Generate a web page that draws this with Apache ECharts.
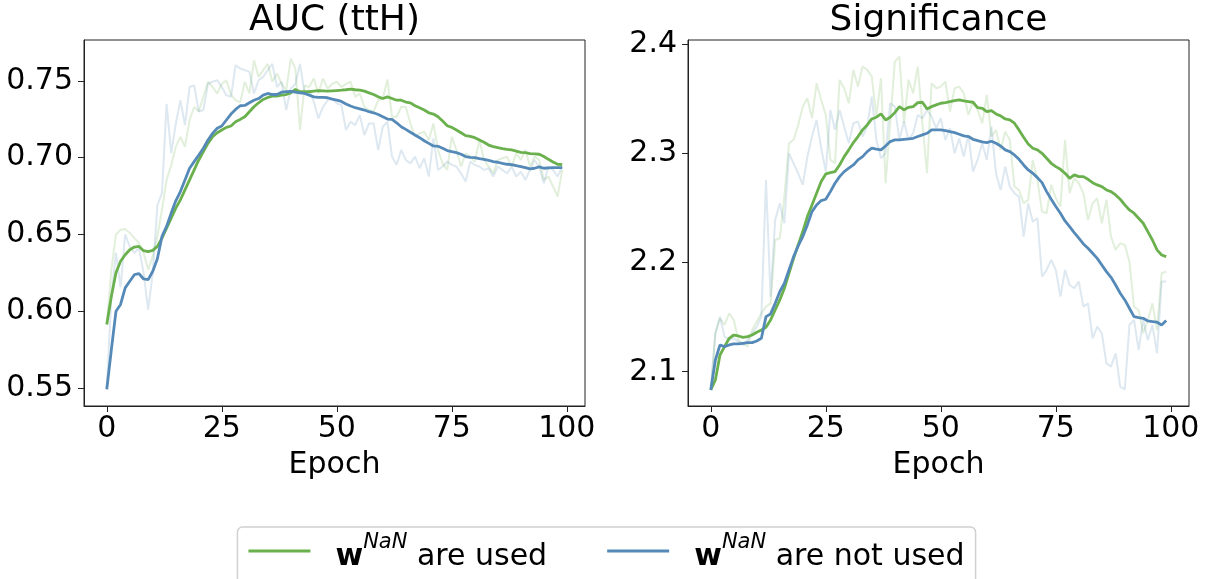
<!DOCTYPE html>
<html>
<head>
<meta charset="utf-8">
<script src="https://cdn.jsdelivr.net/npm/echarts@6/dist/echarts.min.js"></script>
<style>
html,body{margin:0;padding:0;background:#fff;}
#chart{width:1213px;height:579px;}
</style>
</head>
<body>
<div id="chart"></div>
<script>
// ---- data ----
const epochTicks = [0, 25, 50, 75, 100];
const aucTicks = [0.55, 0.60, 0.65, 0.70, 0.75];
const sigTicks = [2.1, 2.2, 2.3, 2.4];
const seriesNames = ['w^NaN are used', 'w^NaN are not used'];

const aucUsedSmooth = [
0.5914,0.6098,0.625,0.6325,0.6368,0.640,0.6418,0.6422,0.6394,0.6388,
0.6396,0.6422,0.6476,0.6541,0.6606,0.6671,0.6725,0.679,0.6855,0.692,
0.6985,0.7039,0.7093,0.7136,0.7162,0.718,0.7197,0.7206,0.7234,0.7249,
0.7266,0.7299,0.7331,0.7357,0.7379,0.7392,0.7401,0.7401,0.7407,0.7411,
0.7422,0.7444,0.7429,0.7429,0.7429,0.7433,0.7437,0.7435,0.7433,0.7435,
0.7437,0.7439,0.7442,0.7446,0.7442,0.7439,0.7433,0.7422,0.7411,0.7396,
0.7385,0.7396,0.7385,0.7374,0.7374,0.7362,0.7357,0.7338,0.7325,0.731,
0.7292,0.7284,0.7266,0.7238,0.7208,0.7197,0.718,0.7162,0.7143,0.7139,
0.713,0.7115,0.71,0.7082,0.7072,0.7065,0.7059,0.7054,0.705,0.7043,
0.7035,0.7033,0.7026,0.7024,0.7022,0.7007,0.6989,0.6972,0.6957,0.6955];

const aucNotUsedSmooth = [
0.5492,0.575,0.600,0.6044,0.6152,0.6195,0.6238,0.6245,0.621,0.6206,
0.626,0.6342,0.6487,0.6552,0.6639,0.6719,0.6779,0.6855,0.6931,0.6974,
0.7017,0.7061,0.7115,0.7158,0.7191,0.7206,0.7245,0.7284,0.7314,0.7338,
0.734,0.7357,0.7374,0.7385,0.7407,0.7418,0.7411,0.7411,0.7426,0.7429,
0.7431,0.7426,0.7422,0.7418,0.7407,0.7396,0.7392,0.7392,0.739,0.7381,
0.7375,0.7366,0.7349,0.7336,0.7325,0.7318,0.731,0.7299,0.7292,0.7281,
0.7266,0.7251,0.7249,0.7227,0.7201,0.7184,0.7165,0.7147,0.713,0.711,
0.7093,0.7076,0.7074,0.7061,0.7046,0.7039,0.7033,0.7022,0.7007,0.7002,
0.700,0.6994,0.6989,0.6983,0.6974,0.697,0.6963,0.6957,0.6955,0.6948,
0.6942,0.6935,0.6927,0.6931,0.694,0.6931,0.6933,0.6935,0.6935,0.6935];

const aucUsedRaw = [
0.5914,0.627,0.650,0.653,0.6535,0.651,0.6476,0.6444,0.638,0.627,
0.636,0.649,0.666,0.6855,0.695,0.707,0.7136,0.707,0.7245,0.733,
0.730,0.7396,0.7494,0.746,0.7418,0.748,0.7504,0.741,0.7374,0.736,
0.7494,0.7418,0.7634,0.7526,0.757,0.761,0.7494,0.7548,0.748,0.744,
0.7645,0.758,0.718,0.747,0.746,0.7515,0.7418,0.7515,0.745,0.748,
0.7494,0.746,0.748,0.7494,0.7396,0.7418,0.733,0.731,0.7299,0.7374,
0.7385,0.7509,0.7266,0.7266,0.733,0.733,0.7223,0.7136,0.7158,0.7169,
0.7115,0.7223,0.705,0.6963,0.692,0.7136,0.705,0.6942,0.7028,0.7007,
0.6974,0.7115,0.6985,0.6942,0.6898,0.6985,0.6996,0.7007,0.6942,0.7028,
0.6985,0.705,0.6942,0.7007,0.6985,0.6855,0.6877,0.6812,0.6747,0.692];

const aucNotUsedRaw = [
0.549,0.61,0.638,0.6156,0.650,0.642,0.638,0.641,0.625,0.601,
0.625,0.669,0.677,0.735,0.703,0.722,0.7374,0.7212,0.746,0.747,
0.730,0.731,0.748,0.7494,0.7504,0.746,0.7407,0.7396,0.7602,0.758,
0.757,0.756,0.7418,0.7504,0.7526,0.757,0.761,0.746,0.7494,0.731,
0.745,0.748,0.761,0.7418,0.744,0.7364,0.7255,0.733,0.7374,0.7385,
0.7353,0.7342,0.718,0.7234,0.7212,0.7277,0.7147,0.7223,0.7223,0.705,
0.7201,0.7234,0.7007,0.6953,0.705,0.6985,0.6963,0.7007,0.6931,0.6996,
0.6877,0.7126,0.692,0.6942,0.6974,0.6953,0.6942,0.6898,0.6844,0.6974,
0.6953,0.6942,0.692,0.6931,0.6877,0.6942,0.692,0.6898,0.6942,0.6877,
0.6909,0.6855,0.692,0.6985,0.6942,0.6833,0.6942,0.692,0.6877,0.6942];

const sigUsedSmooth = [
2.0833,2.0924,2.1153,2.123,2.1306,2.1336,2.1327,2.1315,2.1321,2.1336,
2.1361,2.1382,2.1407,2.1474,2.1565,2.1657,2.1764,2.1901,2.2038,2.2161,
2.2283,2.242,2.2527,2.2634,2.2741,2.2811,2.2823,2.2832,2.2893,2.2969,
2.3031,2.3098,2.3153,2.3214,2.3259,2.3314,2.333,2.336,2.3305,2.333,
2.3372,2.3427,2.3397,2.3421,2.3427,2.3464,2.3467,2.3406,2.3427,2.3443,
2.3458,2.3464,2.3473,2.3482,2.3488,2.3479,2.3473,2.3467,2.3418,2.3412,
2.3382,2.3391,2.336,2.3342,2.3314,2.3305,2.3275,2.3214,2.3147,2.3085,
2.3046,2.3031,2.300,2.2954,2.2908,2.2878,2.2853,2.2817,2.2771,2.2802,
2.2786,2.2786,2.2762,2.2731,2.271,2.2695,2.2664,2.2649,2.2618,2.2579,
2.2527,2.2481,2.2451,2.2405,2.2359,2.2283,2.2206,2.2115,2.2069,2.2054];

const sigNotUsedSmooth = [
2.0833,2.1107,2.1245,2.123,2.1245,2.1254,2.1254,2.126,2.1266,2.1266,
2.1281,2.1306,2.1504,2.1529,2.1626,2.1733,2.181,2.1932,2.2054,2.2151,
2.2237,2.2344,2.2466,2.2527,2.2567,2.2579,2.2649,2.2725,2.2786,2.2832,
2.2863,2.2893,2.2939,2.2969,2.3015,2.3046,2.3037,2.3031,2.3067,2.3107,
2.3122,2.3122,2.3128,2.3131,2.3137,2.3153,2.3168,2.3183,2.3214,2.3214,
2.3214,2.3208,2.3198,2.3189,2.3174,2.3159,2.3153,2.3128,2.3116,2.3104,
2.3098,2.311,2.3092,2.3067,2.3031,2.3015,2.2985,2.2945,2.2893,2.2847,
2.2817,2.2777,2.2731,2.2649,2.2579,2.2512,2.2451,2.238,2.2328,2.2274,
2.2222,2.217,2.213,2.2084,2.2038,2.1977,2.1916,2.1864,2.1794,2.1718,
2.1657,2.1581,2.1504,2.1495,2.1489,2.1465,2.1459,2.1453,2.1428,2.1468];

const sigUsedRaw = [
2.0833,2.1352,2.1489,2.1428,2.1535,2.1474,2.129,2.126,2.123,2.1382,
2.1459,2.1535,2.1596,2.1626,2.2206,2.2222,2.2603,2.3092,2.3122,2.3259,
2.3427,2.3504,2.3321,2.3641,2.3488,2.3351,2.2939,2.2908,2.3672,2.3595,
2.3458,2.3763,2.3611,2.3794,2.3763,2.3702,2.3336,2.3687,2.2725,2.3275,
2.3839,2.3885,2.3275,2.3672,2.3549,2.3794,2.3275,2.2817,2.3641,2.3595,
2.361,2.3656,2.3382,2.3595,2.361,2.3549,2.3351,2.3473,2.3397,2.3275,
2.3534,2.3153,2.3214,2.3031,2.3198,2.3122,2.2695,2.2664,2.2542,2.2573,
2.2939,2.2756,2.2466,2.2451,2.271,2.2588,2.2512,2.3122,2.2634,2.2771,
2.2725,2.2634,2.2389,2.2542,2.2588,2.2359,2.2573,2.2237,2.2115,2.2176,
2.2161,2.2008,2.1596,2.1565,2.1352,2.1474,2.1626,2.1382,2.1901,2.1916];

const sigNotUsedRaw = [
2.0833,2.1352,2.1504,2.1321,2.129,2.1306,2.1275,2.1245,2.129,2.1352,
2.1413,2.1504,2.2756,2.1687,2.239,2.2542,2.2359,2.300,2.2908,2.2817,
2.271,2.2969,2.3153,2.3305,2.3046,2.2832,2.3397,2.3214,2.3397,2.3244,
2.3092,2.3275,2.329,2.3153,2.3244,2.3519,2.3122,2.2954,2.300,2.3458,
2.3427,2.3122,2.329,2.3122,2.3183,2.3351,2.3321,2.3397,2.3336,2.3229,
2.3321,2.3122,2.3229,2.300,2.3137,2.2969,2.3168,2.2832,2.2939,2.3092,
2.2939,2.3244,2.2817,2.2664,2.2878,2.2695,2.2634,2.2603,2.2237,2.2542,
2.2374,2.2405,2.1871,2.1932,2.2023,2.1932,2.1687,2.1932,2.1794,2.1764,
2.1825,2.1596,2.1626,2.1306,2.1413,2.1352,2.1077,2.1047,2.1168,2.0863,
2.0839,2.1428,2.1474,2.1199,2.1474,2.1291,2.1428,2.1168,2.1825,2.1825];

// ---- styling ----
const GREEN = '#6ab04c';
const BLUE = '#558ab8';
const FONT = 'DejaVu Sans';
const TICK_FS = 30;

function pairs(arr) { return arr.map((v, i) => [i, v]); }

const chart = echarts.init(document.getElementById('chart'), null, {renderer: 'canvas'});

const grids = [
  {left: 84, top: 40, width: 501, height: 366},
  {left: 688, top: 40, width: 501, height: 366}
];

function xAxisFor(gi) {
  return {
    type: 'value', gridIndex: gi, min: -4.95, max: 103.95,
    name: 'Epoch', nameLocation: 'middle', nameGap: 44,
    nameTextStyle: {fontFamily: FONT, fontSize: TICK_FS, color: '#000'},
    axisLine: {show: true, onZero: false, lineStyle: {color: '#222', width: 1}},
    axisTick: {show: true, length: 6, customValues: epochTicks, lineStyle: {color: '#222', width: 1}},
    axisLabel: {show: true, customValues: epochTicks, margin: 8, fontFamily: FONT, fontSize: TICK_FS, color: '#000'},
    splitLine: {show: false}
  };
}
function yAxisFor(gi, min, max, ticks, dec) {
  return {
    type: 'value', gridIndex: gi, min: min, max: max,
    axisLine: {show: true, onZero: false, lineStyle: {color: '#222', width: 1}},
    axisTick: {show: true, length: 6, customValues: ticks, lineStyle: {color: '#222', width: 1}},
    axisLabel: {show: true, customValues: ticks, margin: 11, fontFamily: FONT, fontSize: TICK_FS, color: '#000',
      formatter: v => v.toFixed(dec)},
    splitLine: {show: false}
  };
}

function rawSeries(name, data, color, gi) {
  return {
    name: name, type: 'line', xAxisIndex: gi, yAxisIndex: gi, data: pairs(data),
    showSymbol: false, symbol: 'none', smooth: false, silent: true,
    lineStyle: {color: color, width: 2, opacity: 0.2}, itemStyle: {color: color},
    emphasis: {disabled: true}, z: 2
  };
}
function smoothSeries(name, data, color, gi) {
  return {
    name: name, type: 'line', xAxisIndex: gi, yAxisIndex: gi, data: pairs(data),
    showSymbol: false, symbol: 'none', smooth: false,
    lineStyle: {color: color, width: 2.8}, itemStyle: {color: color},
    emphasis: {disabled: true}, z: 3
  };
}

const legendRich = {
  gap: {width: 20},
  w: {fontFamily: FONT, fontSize: 30, fontWeight: 'bold', color: '#000', lineHeight: 42, verticalAlign: 'bottom'},
  sup: {fontFamily: FONT, fontSize: 21, fontStyle: 'italic', color: '#000', lineHeight: 42, verticalAlign: 'bottom', padding: [0, 0, 19, 0]},
  t: {fontFamily: FONT, fontSize: 30, color: '#000', lineHeight: 42, verticalAlign: 'bottom'}
};

const option = {
  backgroundColor: '#fff',
  animation: false,
  grid: grids.map(g => Object.assign({show: true, borderColor: '#222', borderWidth: 1, backgroundColor: 'transparent', containLabel: false, outerBoundsMode: 'none'}, g)),
  xAxis: [xAxisFor(0), xAxisFor(1)],
  yAxis: [
    yAxisFor(0, 0.5383, 0.7766, aucTicks, 2),
    yAxisFor(1, 2.0686, 2.4037, sigTicks, 1)
  ],
  legend: {
    data: seriesNames,
    left: 'center', top: 527,
    orient: 'horizontal',
    icon: 'rect', itemWidth: 62, itemHeight: 3, itemGap: 60,
    padding: [5, 11, 20, 11],
    borderColor: '#d0d0d0', borderWidth: 1.5, borderRadius: 5,
    backgroundColor: '#fff',
    selectedMode: false,
    textStyle: {rich: legendRich},
    formatter: function (name) {
      return name === seriesNames[0]
        ? '{gap|}{w|w}{sup|NaN}{t| are used}'
        : '{gap|}{w|w}{sup|NaN}{t| are not used}';
    }
  },
  graphic: [
    {type: 'text', x: 334.5, y: 3, silent: true,
     style: {text: 'AUC (ttH)', fontFamily: FONT, fontSize: 36, fill: '#000', textAlign: 'center', textVerticalAlign: 'top'}},
    {type: 'text', x: 938.5, y: 3, silent: true,
     style: {text: 'Significance', fontFamily: FONT, fontSize: 36, fill: '#000', textAlign: 'center', textVerticalAlign: 'top'}}
  ],
  series: [
    rawSeries('raw used auc', aucUsedRaw, GREEN, 0),
    rawSeries('raw not used auc', aucNotUsedRaw, BLUE, 0),
    smoothSeries(seriesNames[0], aucUsedSmooth, GREEN, 0),
    smoothSeries(seriesNames[1], aucNotUsedSmooth, BLUE, 0),
    rawSeries('raw used sig', sigUsedRaw, GREEN, 1),
    rawSeries('raw not used sig', sigNotUsedRaw, BLUE, 1),
    smoothSeries(seriesNames[0], sigUsedSmooth, GREEN, 1),
    smoothSeries(seriesNames[1], sigNotUsedSmooth, BLUE, 1)
  ]
};
chart.setOption(option);
</script>
</body>
</html>
